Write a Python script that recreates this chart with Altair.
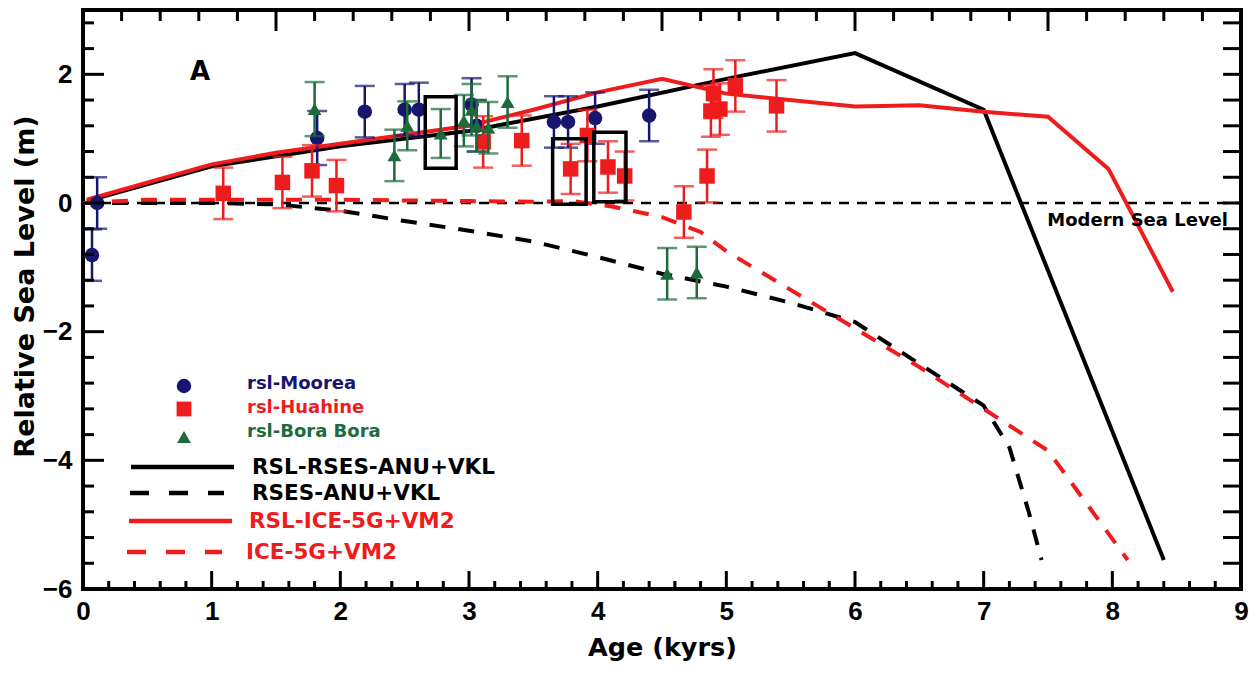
import altair as alt
import pandas as pd
import numpy as np

# ---------------- data ----------------
moorea_age = [0.07, 0.11, 1.82, 2.19, 2.50, 2.61, 3.02, 3.06, 3.66, 3.77, 3.98, 4.40]
moorea_rsl = [-0.81, 0.00, 1.01, 1.42, 1.45, 1.45, 1.53, 1.20, 1.26, 1.26, 1.32, 1.36]
moorea_err = [0.40, 0.40, 0.42, 0.40, 0.40, 0.42, 0.41, 0.40, 0.40, 0.40, 0.40, 0.40]

huahine_age = [1.09, 1.55, 1.78, 1.97, 3.11, 3.41, 3.79, 3.92, 4.08, 4.21, 4.67, 4.85, 4.88, 4.95, 4.90, 5.07, 5.39]
huahine_rsl = [0.15, 0.32, 0.50, 0.27, 0.95, 0.97, 0.53, 1.05, 0.56, 0.42, -0.14, 0.42, 1.43, 1.46, 1.70, 1.82, 1.51]
huahine_err = [0.40, 0.40, 0.40, 0.40, 0.40, 0.39, 0.39, 0.40, 0.40, 0.38, 0.40, 0.41, 0.40, 0.40, 0.38, 0.40, 0.40]

bora_age = [1.80, 2.42, 2.52, 2.78, 2.96, 3.02, 3.06, 3.15, 3.30, 4.54, 4.77]
bora_rsl = [1.46, 0.74, 1.20, 1.08, 1.28, 1.45, 1.20, 1.17, 1.57, -1.10, -1.08]
bora_err = [0.42, 0.40, 0.38, 0.38, 0.40, 0.40, 0.40, 0.40, 0.40, 0.40, 0.40]

rsl_anu_age = [0.03, 1.0, 2.0, 3.0, 4.0, 5.0, 6.0, 7.0, 8.4]
rsl_anu_val = [0.03, 0.57, 0.88, 1.12, 1.50, 1.93, 2.33, 1.45, -5.55]

anu_age = [0.0, 1.0, 1.5, 2.0, 2.5, 3.0, 3.5, 4.0, 4.5, 5.0, 5.5, 6.0, 6.5, 7.0, 7.2, 7.35, 7.45]
anu_val = [0.0, 0.0, -0.02, -0.12, -0.28, -0.43, -0.60, -0.84, -1.10, -1.30, -1.55, -1.85, -2.50, -3.15, -3.80, -4.80, -5.55]

rsl_ice_age = [0.03, 1.0, 1.5, 2.0, 3.0, 3.5, 4.0, 4.5, 5.0, 6.0, 6.5, 7.0, 7.5, 7.97, 8.47]
rsl_ice_val = [0.05, 0.60, 0.78, 0.92, 1.20, 1.45, 1.72, 1.93, 1.70, 1.50, 1.52, 1.42, 1.34, 0.53, -1.38]

ice_age = [0.0, 0.5, 1.0, 2.0, 3.0, 3.5, 3.8, 4.1, 4.5, 4.8, 5.0, 5.5, 6.0, 6.5, 7.0, 7.5, 8.12]
ice_val = [0.0, 0.05, 0.05, 0.05, 0.03, 0.02, 0.03, -0.05, -0.22, -0.45, -0.75, -1.35, -1.95, -2.55, -3.20, -3.85, -5.55]

box_x1 = [2.66, 3.65, 3.97]
box_x2 = [2.90, 3.91, 4.22]
box_y1 = [0.54, -0.02, 0.02]
box_y2 = [1.65, 1.00, 1.10]

legend_points = ["rsl-Moorea", "rsl-Huahine", "rsl-Bora Bora"]
legend_lines = ["RSL-RSES-ANU+VKL", "RSES-ANU+VKL", "RSL-ICE-5G+VM2", "ICE-5G+VM2"]

# ---------------- style ----------------
W, H = 1158, 579
FONT = "Liberation Sans"
TFONT = "DejaVu Sans"
NAVY, RED, GREEN = "#16166e", "#ee1c1c", "#1b6b3b"

xscale = alt.Scale(domain=[0, 9], nice=False, zero=False)
yscale = alt.Scale(domain=[-6, 3], nice=False, zero=False)
xaxis = alt.Axis(title="Age (kyrs)", values=list(range(10)), format="d", labelFlush=False,
                 domain=False, ticks=False, tickSize=0, grid=False, labelOverlap=False,
                 labelPadding=9, labelFont=FONT, labelFontSize=26, labelFontWeight="bold",
                 labelColor="black", titleFont=TFONT, titleFontSize=25.5, titleFontWeight="bold",
                 titleColor="black", titlePadding=11)
yaxis = alt.Axis(title="Relative Sea Level (m)", values=[-6, -4, -2, 0, 2], format="d",
                 domain=False, ticks=False, tickSize=0, grid=False, labelOverlap=False,
                 labelPadding=11, labelFont=FONT, labelFontSize=26, labelFontWeight="bold",
                 labelColor="black", titleFont=TFONT, titleFontSize=27, titleFontWeight="bold",
                 titleColor="black", titlePadding=3, titleY=276)


def X(f):
    return alt.X(f, type="quantitative", scale=xscale, axis=xaxis)


def Y(f):
    return alt.Y(f, type="quantitative", scale=yscale, axis=yaxis)


def pts(ages, vals, errs):
    return pd.DataFrame({"age": ages, "rsl": vals,
                         "lo": [v - e for v, e in zip(vals, errs)],
                         "hi": [v + e for v, e in zip(vals, errs)]})


layers = []

# modern sea level
zl = pd.DataFrame({"age": [0, 9], "rsl": [0, 0]})
layers.append(alt.Chart(zl).mark_line(color="black", strokeWidth=2.5, strokeDash=[10, 8])
              .encode(x=X("age"), y=Y("rsl")))

# model curves (red drawn over black)
curves = [
    (rsl_anu_age, rsl_anu_val, "black", None),
    (anu_age, anu_val, "black", [16, 13]),
    (rsl_ice_age, rsl_ice_val, RED, None),
    (ice_age, ice_val, RED, [16, 13]),
]
for a, v, c, d in curves:
    df = pd.DataFrame({"age": a, "rsl": v})
    kw = dict(color=c, strokeWidth=4)
    if d:
        kw["strokeDash"] = d
    layers.append(alt.Chart(df).mark_line(**kw).encode(x=X("age"), y=Y("rsl"), order="age:Q"))

# data points with error bars
series = [
    (moorea_age, moorea_rsl, moorea_err, NAVY, "circle", 210),
    (huahine_age, huahine_rsl, huahine_err, RED, "square", 240),
    (bora_age, bora_rsl, bora_err, GREEN, "triangle-up", 190),
]
for a, v, e, c, shp, sz in series:
    df = pts(a, v, e)
    base = alt.Chart(df)
    layers.append(base.mark_rule(color=c, strokeWidth=2.5).encode(x=X("age"), y=Y("lo"), y2="hi"))
    layers.append(base.mark_tick(color=c, thickness=2.5, size=20, orient="horizontal")
                  .encode(x=X("age"), y=Y("lo")))
    layers.append(base.mark_tick(color=c, thickness=2.5, size=20, orient="horizontal")
                  .encode(x=X("age"), y=Y("hi")))
    layers.append(base.mark_point(shape=shp, filled=True, color=c, size=sz, opacity=1)
                  .encode(x=X("age"), y=Y("rsl")))

# boxes
bx = pd.DataFrame({"x1": box_x1, "x2": box_x2, "y1": box_y1, "y2": box_y2})
layers.append(alt.Chart(bx).mark_rect(fill=None, fillOpacity=0, stroke="black", strokeWidth=3.5)
              .encode(x=X("x1"), x2="x2", y=Y("y1"), y2="y2"))

# inward tick marks
one = pd.DataFrame({"a": [0]})
bt = pd.DataFrame({"t": np.round(np.arange(0, 9.001, 0.2), 3)})
bt["major"] = (np.abs(bt["t"] - np.round(bt["t"])) < 1e-6)
tt = pd.DataFrame({"t": np.round(np.arange(0, 9.001, 0.3), 3)})
tt["major"] = (np.abs(tt["t"] / 1.5 - np.round(tt["t"] / 1.5)) < 1e-6)
lt = pd.DataFrame({"t": np.round(np.arange(-6, 3.001, 0.4), 3)})
lt["major"] = (np.abs(lt["t"] / 2 - np.round(lt["t"] / 2)) < 1e-6)

for df, side in [(bt, "bottom"), (tt, "top")]:
    for maj, ln in ([True, 18], [False, 8]) if side == "bottom" else ([True, 21], [False, 11]):
        d = df[df["major"] == maj]
        if side == "bottom":
            enc = dict(x=X("t"), y=alt.value(H), y2=alt.value(H - ln))
        else:
            enc = dict(x=X("t"), y=alt.value(0), y2=alt.value(ln))
        layers.append(alt.Chart(d).mark_rule(color="black", strokeWidth=3).encode(**enc))
for maj, ln in ([True, 21], [False, 11]):
    d = lt[lt["major"] == maj]
    layers.append(alt.Chart(d).mark_rule(color="black", strokeWidth=3)
                  .encode(y=Y("t"), x=alt.value(0), x2=alt.value(ln)))
layers.append(alt.Chart(lt).mark_rule(color="black", strokeWidth=3)
              .encode(y=Y("t"), x=alt.value(W - 18), x2=alt.value(W)))

# annotations
layers.append(alt.Chart(one).mark_text(text="A", font=TFONT, fontSize=26, fontWeight="bold",
                                       color="black", align="center", baseline="middle")
              .encode(x=alt.value(117), y=alt.value(62)))
layers.append(alt.Chart(one).mark_text(text="Modern Sea Level", font=TFONT, fontSize=18,
                                       fontWeight="bold", color="black", align="right",
                                       baseline="middle")
              .encode(x=alt.value(1145), y=alt.value(211)))

# custom legend
pt_leg = [(NAVY, "circle", 210, 376, 374), (RED, "square", 220, 399, 398),
          (GREEN, "triangle-up", 190, 427, 422)]
for (c, shp, sz, sy, ty), lab in zip(pt_leg, legend_points):
    layers.append(alt.Chart(one).mark_point(shape=shp, filled=True, color=c, size=sz, opacity=1)
                  .encode(x=alt.value(101), y=alt.value(sy)))
    layers.append(alt.Chart(one).mark_text(text=lab, font=TFONT, fontSize=18, fontWeight="bold",
                                           color=c, align="left", baseline="middle")
                  .encode(x=alt.value(164), y=alt.value(ty)))

ln_leg = [("black", None, 48, 151, 457, 169), ("black", [19, 20], 47, 141, 483, 169),
          (RED, None, 46, 149, 511, 166), (RED, [19, 20], 44, 139, 542, 163)]
for (c, d, x1, x2, yy, tx), lab in zip(ln_leg, legend_lines):
    kw = dict(color=c, strokeWidth=4.5)
    if d:
        kw["strokeDash"] = d
    layers.append(alt.Chart(one).mark_rule(**kw)
                  .encode(x=alt.value(x1), x2=alt.value(x2), y=alt.value(yy)))
    layers.append(alt.Chart(one).mark_text(text=lab, font=TFONT, fontSize=21.5, fontWeight="bold",
                                           color=c, align="left", baseline="middle")
                  .encode(x=alt.value(tx), y=alt.value(yy + 1)))

chart = (alt.layer(*layers)
         .properties(width=W, height=H, autosize=alt.AutoSizeParams(type="none"),
                     padding={"left": 75, "top": 2, "right": 8, "bottom": 72},
                     background="white")
         .configure_view(stroke="black", strokeWidth=4))

chart.save("out.html", embed_options={"renderer": "svg", "actions": False})
